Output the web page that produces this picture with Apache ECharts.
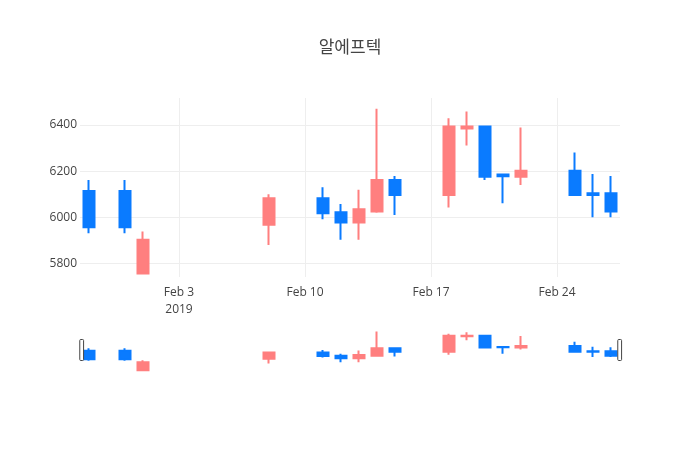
<!DOCTYPE html>
<html>
<head>
<meta charset="utf-8">
<script src="https://cdn.jsdelivr.net/npm/echarts@6/dist/echarts.min.js"></script>
<style>
    html, body { margin: 0; padding: 0; background: #fff; }
    #chart { width: 700px; height: 450px; }
</style>
</head>
<body>
<div id="chart"></div>
<script>
// 알에프텍 daily candles
var dates  = ['2019-01-29','2019-01-31','2019-02-01','2019-02-08','2019-02-11','2019-02-12','2019-02-13','2019-02-14','2019-02-15',
              '2019-02-18','2019-02-19','2019-02-20','2019-02-21','2019-02-22','2019-02-25','2019-02-26','2019-02-27'];
var opens  = [6114, 6114, 5756, 5967, 6082, 6022, 5977, 6025, 6162, 6097, 6385, 6393, 6185, 6176, 6202, 6104, 6104];
var closes = [5957, 5957, 5902, 6082, 6017, 5977, 6035, 6162, 6097, 6393, 6393, 6176, 6178, 6202, 6097, 6097, 6025];
var lows   = [5931, 5931, 5756, 5880, 5991, 5902, 5902, 6020, 6010, 6042, 6311, 6162, 6061, 6140, 6097, 6000, 6000];
var highs  = [6162, 6162, 5938, 6100, 6130, 6058, 6119, 6470, 6179, 6429, 6458, 6393, 6187, 6389, 6281, 6188, 6179];

var xTickDates  = ['2019-02-03','2019-02-10','2019-02-17','2019-02-24'];
var xTickLabels = ['Feb 3\n2019','Feb 10','Feb 17','Feb 24'];
var yTicks = [5800, 6000, 6200, 6400];

var upColor = '#FF7F7F';
var downColor = '#0A7BFF';
var DAY = 86400000;
var base = Date.UTC(2019, 1, 3);   // day 0 = Feb 3

function dayOf(s) {
    var p = s.split('-');
    return (Date.UTC(+p[0], +p[1] - 1, +p[2]) - base) / DAY;
}

var candles = [];
for (var i = 0; i < dates.length; i++) {
    candles.push([dayOf(dates[i]), opens[i], closes[i], lows[i], highs[i]]);
}
var xTicks = xTickDates.map(dayOf);
var xMin = dayOf('2019-01-28') + 0.5, xMax = dayOf('2019-02-27') + 0.5;
var yMin = 5741, yMax = 6517;

var myChart = echarts.init(document.getElementById('chart'));
var candleStyle = {
    color: upColor, color0: downColor,
    borderColor: upColor, borderColor0: downColor,
    borderWidth: 2
};
var option = {
    backgroundColor: '#fff',
    animation: false,
    title: {
        text: '알에프텍',
        left: 'center',
        top: 33,
        textStyle: { fontFamily: '"Noto Sans CJK KR", "Open Sans", sans-serif', fontSize: 17, fontWeight: 'normal', color: '#444' }
    },
    grid: [
        { left: 80, right: 80, top: 98, height: 179 },
        { left: 80, right: 80, top: 329, height: 42 }
    ],
    xAxis: [
        {
            type: 'value', gridIndex: 0, min: xMin, max: xMax,
            axisLine: { show: false },
            axisTick: { show: false, customValues: xTicks },
            splitLine: { show: true, lineStyle: { color: '#eee', width: 1 } },
            axisLabel: {
                customValues: xTicks, margin: 7, color: '#444', fontSize: 12, lineHeight: 17,
                fontFamily: '"Open Sans", sans-serif',
                formatter: function (v) { return xTickLabels[xTicks.indexOf(v)]; }
            }
        },
        {
            type: 'value', gridIndex: 1, min: xMin, max: xMax,
            axisLine: { show: false }, axisTick: { show: false },
            splitLine: { show: false }, axisLabel: { show: false }
        }
    ],
    yAxis: [
        {
            type: 'value', gridIndex: 0, min: yMin, max: yMax,
            axisLine: { show: false },
            axisTick: { show: false, customValues: yTicks },
            splitLine: { show: true, lineStyle: { color: '#eee', width: 1 } },
            axisLabel: {
                customValues: yTicks, margin: 3, color: '#444', fontSize: 12, fontFamily: '"Open Sans", sans-serif',
                formatter: function (v) { return String(v); }
            }
        },
        {
            type: 'value', gridIndex: 1, min: yMin, max: yMax,
            axisLine: { show: false }, axisTick: { show: false },
            splitLine: { show: false }, axisLabel: { show: false }
        }
    ],
    dataZoom: [{
        type: 'slider',
        xAxisIndex: [0, 1],
        filterMode: 'none',
        start: 0, end: 100,
        left: 80, right: 80, top: 329, height: 42,
        showDetail: false,
        showDataShadow: false,
        brushSelect: false,
        backgroundColor: 'rgba(0,0,0,0)',
        fillerColor: 'rgba(0,0,0,0)',
        borderColor: 'rgba(0,0,0,0)',
        moveHandleSize: 0,
        handleIcon: 'path://M1,0 h2 a1,1 0 0 1 1,1 v20 a1,1 0 0 1 -1,1 h-2 a1,1 0 0 1 -1,-1 v-20 a1,1 0 0 1 1,-1 Z',
        handleSize: '50%',
        handleStyle: { color: '#fff', borderColor: '#444', borderWidth: 1 },
        emphasis: { handleStyle: { color: '#fff', borderColor: '#444', borderWidth: 1 } }
    }],
    series: [
        {
            type: 'candlestick', xAxisIndex: 0, yAxisIndex: 0,
            data: candles, encode: { x: 0, y: [1, 2, 3, 4] },
            barWidth: 11, itemStyle: candleStyle
        },
        {
            type: 'candlestick', xAxisIndex: 1, yAxisIndex: 1,
            data: candles, encode: { x: 0, y: [1, 2, 3, 4] },
            barWidth: 11, silent: true, itemStyle: candleStyle
        }
    ]
};
myChart.setOption(option);
</script>
</body>
</html>
